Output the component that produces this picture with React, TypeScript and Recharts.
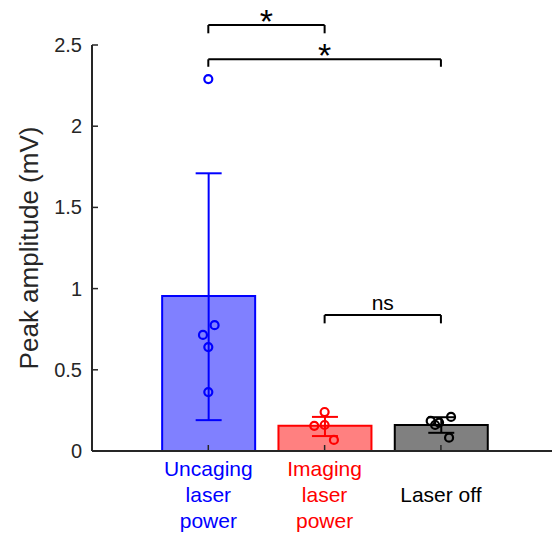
import React from "react";
import {
  ComposedChart,
  Bar,
  ErrorBar,
  Scatter,
  XAxis,
  YAxis,
  Label,
  ReferenceLine,
  ReferenceDot,
} from "recharts";

const groupX = [1, 2, 3];
const groupKeys = ["uncaging", "imaging", "off"];
const groupLabels = [["Uncaging", "laser", "power"], ["Imaging", "laser", "power"], ["Laser off"]];
const edgeColors = ["#0000ff", "#ff0000", "#000000"];
const fillColors = ["#8080ff", "#ff8080", "#808080"];

// mean and error extents (down / up) per group
const means = [0.955, 0.155, 0.16];
const errDown = [0.765, 0.063, 0.048];
const errUp = [0.755, 0.055, 0.048];

// individual cells, x is jittered around group position
const uncagingPoints = [
  { x: 1.0, y: 2.29 },
  { x: 1.054, y: 0.775 },
  { x: 0.954, y: 0.715 },
  { x: 1.0, y: 0.64 },
  { x: 1.0, y: 0.363 },
];
const imagingPoints = [
  { x: 2.0, y: 0.24 },
  { x: 1.911, y: 0.155 },
  { x: 2.0, y: 0.16 },
  { x: 2.08, y: 0.068 },
];
const laserOffPoints = [
  { x: 3.087, y: 0.21 },
  { x: 2.912, y: 0.185 },
  { x: 2.95, y: 0.16 },
  { x: 2.984, y: 0.175 },
  { x: 3.07, y: 0.082 },
];
const pointSets = [uncagingPoints, imagingPoints, laserOffPoints];

const yTicks = [0, 0.5, 1, 1.5, 2, 2.5];
const yTickLabels = ["0", "0.5", "1", "1.5", "2", "2.5"];

const brackets = [
  { from: 1, to: 2, y: 2.623, drop: 0.051, text: "*" },
  { from: 1, to: 3, y: 2.412, drop: 0.046, text: "*" },
  { from: 2, to: 3, y: 0.837, drop: 0.051, text: "ns" },
];

const FONT = "'Liberation Sans', Arial, sans-serif";
const AXIS = "#262626";
const X_DOMAIN = [0, 3.955];

const barData = groupX.map((x, i) => ({
  x,
  [groupKeys[i]]: means[i],
  [groupKeys[i] + "Err"]: [errDown[i], errUp[i]],
}));

const XTick = (props: any) => {
  const { x, y, payload } = props;
  const i = groupX.indexOf(payload.value);
  const lines = groupLabels[i] || [];
  return (
    <g>
      <line x1={x} x2={x} y1={y - 6} y2={y} stroke={AXIS} strokeWidth={1.5} />
      {lines.map((t, j) => (
        <text
          key={j}
          x={x}
          y={y + 51 + (j - (lines.length - 1) / 2) * 26}
          textAnchor="middle"
          fontSize={21}
          fontFamily={FONT}
          fill={edgeColors[i]}
        >
          {t}
        </text>
      ))}
    </g>
  );
};

const YTick = (props: any) => {
  const { x, y, payload } = props;
  const i = yTicks.indexOf(payload.value);
  return (
    <g>
      <line x1={x} x2={x + 6} y1={y} y2={y} stroke={AXIS} strokeWidth={1.5} />
      <text x={x - 10} y={y} dy="0.35em" textAnchor="end" fontSize={20} fontFamily={FONT} fill={AXIS}>
        {yTickLabels[i]}
      </text>
    </g>
  );
};

const YTitle = (props: any) => {
  const vb = props.viewBox;
  const cx = vb.x + 29;
  const cy = vb.y + vb.height / 2;
  return (
    <text
      x={cx}
      y={cy}
      transform={`rotate(-90, ${cx}, ${cy})`}
      textAnchor="middle"
      dominantBaseline="central"
      fontSize={26}
      fontFamily={FONT}
      fill={AXIS}
    >
      Peak amplitude (mV)
    </text>
  );
};

const starLabel = (text: string) => (props: any) => {
  const vb = props.viewBox;
  const cx = vb.x + vb.width / 2;
  const cy = vb.y + vb.height / 2;
  const isStar = text === "*";
  return (
    <text
      x={cx}
      y={isStar ? cy + 8 : cy - 5}
      textAnchor="middle"
      fontSize={isStar ? 34 : 21}
      fontFamily={FONT}
      fill="#000"
    >
      {text}
    </text>
  );
};

export default function App() {
  return (
    <div style={{ position: "absolute", left: 0, top: 0, background: "#fff" }}>
      <ComposedChart
        width={552}
        height={540}
        data={barData}
        margin={{ top: 45, right: 0, bottom: 0, left: 0 }}
      >
        <XAxis
          dataKey="x"
          type="number"
          domain={X_DOMAIN}
          ticks={groupX}
          allowDataOverflow
          height={89}
          tickSize={0}
          tickMargin={0}
          tick={<XTick />}
          interval={0}
          axisLine={{ stroke: AXIS, strokeWidth: 2 }}
        />
        <XAxis xAxisId="pts" dataKey="x" type="number" domain={X_DOMAIN} allowDataOverflow hide />
        <YAxis
          type="number"
          domain={[0, 2.5]}
          ticks={yTicks}
          allowDataOverflow
          width={92}
          tickSize={0}
          tickMargin={0}
          tick={<YTick />}
          interval={0}
          axisLine={{ stroke: AXIS, strokeWidth: 2 }}
        >
          <Label content={YTitle} />
        </YAxis>
        {groupKeys.map((k, i) => (
          <Bar
            key={k}
            dataKey={k}
            stackId="s"
            barSize={93}
            fill={fillColors[i]}
            stroke={edgeColors[i]}
            strokeWidth={2}
            isAnimationActive={false}
          >
            <ErrorBar dataKey={k + "Err"} direction="y" width={13} stroke={edgeColors[i]} strokeWidth={2} />
          </Bar>
        ))}
        {pointSets.map((pts, i) => (
          <Scatter
            key={"pts" + i}
            xAxisId="pts"
            data={pts}
            dataKey="y"
            isAnimationActive={false}
            shape={(p: any) => (
              <circle cx={p.cx} cy={p.cy} r={4} fill="none" stroke={edgeColors[i]} strokeWidth={2.2} />
            )}
          />
        ))}
        {brackets.map((b, i) => [
          <ReferenceLine
            key={"h" + i}
            segment={[{ x: b.from, y: b.y }, { x: b.to, y: b.y }]}
            stroke="#000"
            strokeWidth={2}
            ifOverflow="visible"
          />,
          <ReferenceLine
            key={"l" + i}
            segment={[{ x: b.from, y: b.y }, { x: b.from, y: b.y - b.drop }]}
            stroke="#000"
            strokeWidth={2}
            ifOverflow="visible"
          />,
          <ReferenceLine
            key={"r" + i}
            segment={[{ x: b.to, y: b.y }, { x: b.to, y: b.y - b.drop }]}
            stroke="#000"
            strokeWidth={2}
            ifOverflow="visible"
          />,
          <ReferenceDot
            key={"t" + i}
            x={(b.from + b.to) / 2}
            y={b.y}
            r={0}
            stroke="none"
            fill="none"
            ifOverflow="visible"
            label={starLabel(b.text)}
          />,
        ])}
      </ComposedChart>
    </div>
  );
}
